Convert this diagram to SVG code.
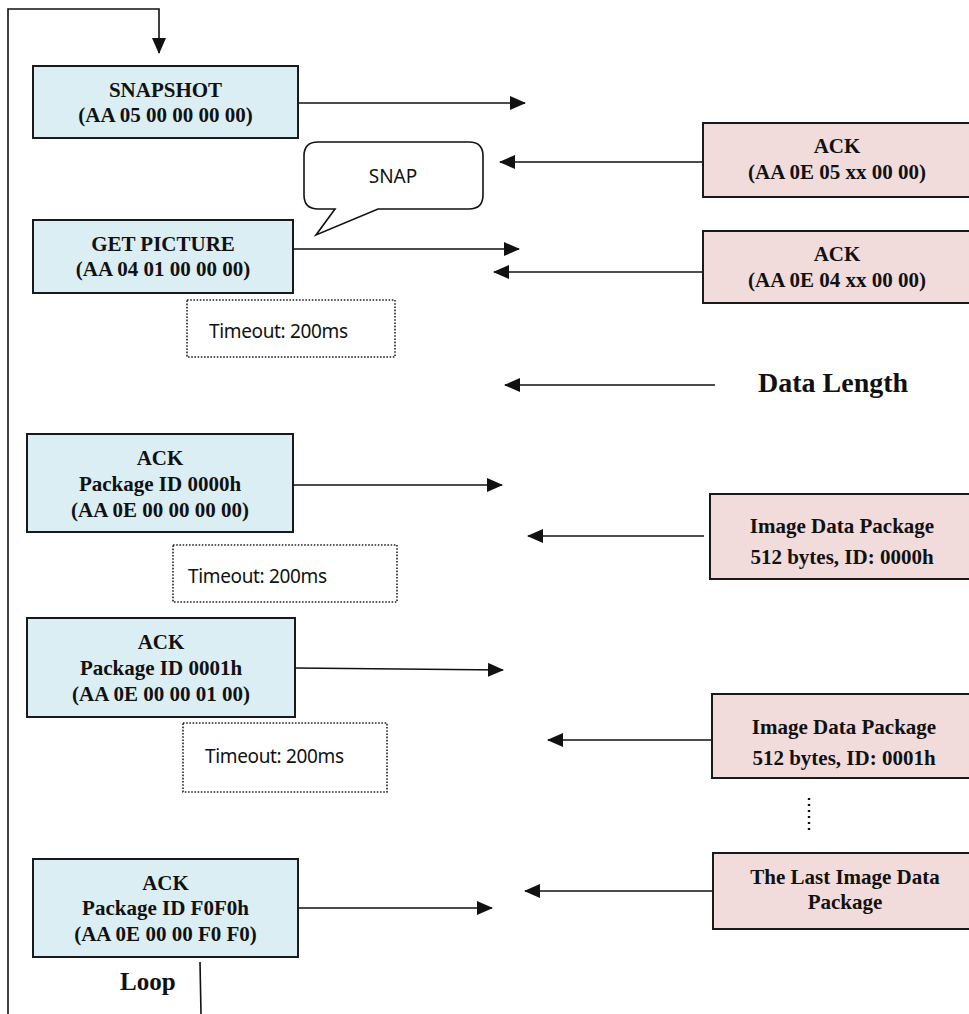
<svg xmlns="http://www.w3.org/2000/svg" width="969" height="1014" viewBox="0 0 969 1014">
<style>
.blue{fill:#dbeef3;stroke:#1a1a1a;stroke-width:2}
.pink{fill:#f2dcdb;stroke:#1a1a1a;stroke-width:2}
.bt{font-family:"Liberation Serif","Times New Roman",serif;font-weight:bold;font-size:21px;fill:#111;text-anchor:middle}
.big{font-family:"Liberation Serif","Times New Roman",serif;font-weight:bold;fill:#111}
.to{fill:#fff;stroke:#222;stroke-width:1.6;stroke-dasharray:1.6 1.6}
.tt{font-family:"Noto Sans","Open Sans",sans-serif;font-size:19px;fill:#111}
.ln{fill:none;stroke:#111;stroke-width:1.6}
.arr{marker-end:url(#ah)}
</style>
<defs>
<marker id="ah" markerUnits="userSpaceOnUse" markerWidth="16" markerHeight="14" refX="15" refY="7" orient="auto">
<path d="M0,0 L16,7 L0,14 z" fill="#111"/>
</marker>
</defs>
<rect width="969" height="1014" fill="#fff"/>

<g id="connectors">
<path class="ln arr" d="M8,1014 V9 H159 V53"/>
<path class="ln" d="M200,962 L201,1014"/>
<path class="ln arr" d="M298,103 H525"/>
<path class="ln arr" d="M703,162 H500"/>
<path class="ln arr" d="M293,249 H519"/>
<path class="ln arr" d="M703,272 H494"/>
<path class="ln arr" d="M715,385 H505"/>
<path class="ln arr" d="M293,485 H502"/>
<path class="ln arr" d="M704,536 H528"/>
<path class="ln arr" d="M295,668 L503,670"/>
<path class="ln arr" d="M712,740 H548"/>
<path class="ln arr" d="M713,891 H525"/>
<path class="ln arr" d="M298,908 H492"/>
<path d="M809,798 V834" fill="none" stroke="#111" stroke-width="2.4" stroke-dasharray="2 4"/>
</g>

<g id="n-snapshot">
<rect class="blue" x="33" y="66" width="265" height="72"/>
<text class="bt" x="165.5" y="97">SNAPSHOT</text>
<text class="bt" x="165.5" y="122">(AA 05 00 00 00 00)</text>
</g>

<g id="n-snap-bubble">
<path d="M318,142 H469 Q483,142 483,156 V195 Q483,209 469,209 H378 L316,235 L335,209 H318 Q304,209 304,195 V156 Q304,142 318,142 Z" fill="#fff" stroke="#111" stroke-width="1.6"/>
<text class="tt" x="393" y="183" text-anchor="middle">SNAP</text>
</g>

<g id="n-ack-snap">
<rect class="pink" x="703" y="123" width="272" height="74"/>
<text class="bt" x="837" y="153">ACK</text>
<text class="bt" x="837" y="179">(AA 0E 05 xx 00 00)</text>
</g>

<g id="n-getpicture">
<rect class="blue" x="33" y="220" width="260" height="73"/>
<text class="bt" x="163" y="251">GET PICTURE</text>
<text class="bt" x="163" y="276">(AA 04 01 00 00 00)</text>
</g>

<g id="n-ack-get">
<rect class="pink" x="703" y="231" width="272" height="72"/>
<text class="bt" x="837" y="261">ACK</text>
<text class="bt" x="837" y="287">(AA 0E 04 xx 00 00)</text>
</g>

<g id="n-timeout1">
<rect class="to" x="187" y="300" width="208" height="57"/>
<text class="tt" x="209" y="338" textLength="139">Timeout: 200ms</text>
</g>

<g id="n-datalength">
<text class="big" x="758" y="392" font-size="28">Data Length</text>
</g>

<g id="n-ack0000">
<rect class="blue" x="27" y="434" width="266" height="98"/>
<text class="bt" x="160" y="465">ACK</text>
<text class="bt" x="160" y="491">Package ID 0000h</text>
<text class="bt" x="160" y="517">(AA 0E 00 00 00 00)</text>
</g>

<g id="n-img0000">
<rect class="pink" x="710" y="494" width="265" height="85"/>
<text class="bt" x="842" y="533">Image Data Package</text>
<text class="bt" x="842" y="564">512 bytes, ID: 0000h</text>
</g>

<g id="n-timeout2">
<rect class="to" x="173" y="545" width="224" height="57"/>
<text class="tt" x="188" y="583" textLength="139">Timeout: 200ms</text>
</g>

<g id="n-ack0001">
<rect class="blue" x="27" y="618" width="268" height="99"/>
<text class="bt" x="161" y="649">ACK</text>
<text class="bt" x="161" y="675">Package ID 0001h</text>
<text class="bt" x="161" y="701">(AA 0E 00 00 01 00)</text>
</g>

<g id="n-img0001">
<rect class="pink" x="712" y="694" width="265" height="84"/>
<text class="bt" x="844" y="734">Image Data Package</text>
<text class="bt" x="844" y="765">512 bytes, ID: 0001h</text>
</g>

<g id="n-timeout3">
<rect class="to" x="183" y="723" width="204" height="69"/>
<text class="tt" x="205" y="763" textLength="139">Timeout: 200ms</text>
</g>

<g id="n-imglast">
<rect class="pink" x="713" y="853" width="265" height="76"/>
<text class="bt" x="845" y="884">The Last Image Data</text>
<text class="bt" x="845" y="909">Package</text>
</g>

<g id="n-ackF0F0">
<rect class="blue" x="33" y="859" width="265" height="98"/>
<text class="bt" x="165.5" y="890">ACK</text>
<text class="bt" x="165.5" y="915">Package ID F0F0h</text>
<text class="bt" x="165.5" y="941">(AA 0E 00 00 F0 F0)</text>
</g>

<g id="n-loop">
<text class="big" x="120" y="990" font-size="25">Loop</text>
</g>
</svg>
